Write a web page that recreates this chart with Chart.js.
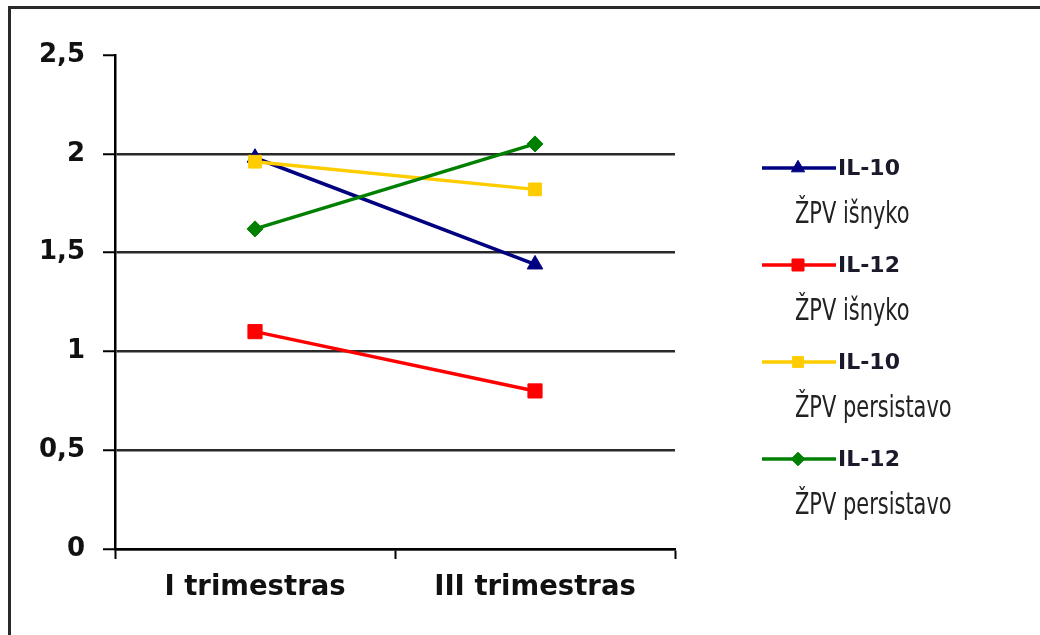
<!DOCTYPE html>
<html>
<head>
<meta charset="utf-8">
<script src="https://cdn.jsdelivr.net/npm/chart.js@4/dist/chart.umd.min.js"></script>
<style>
  html, body { margin: 0; padding: 0; background: #fff; }
  canvas { display: block; }
</style>
</head>
<body>
<canvas id="c" width="1040" height="635"></canvas>
<script>
// Categories, tick values and the four IL series
const categories = ['I trimestras', 'III trimestras'];
const yTicks = [0, 0.5, 1, 1.5, 2, 2.5];

const il10Isnyko = [1.98, 1.44];
const il12Isnyko = [1.10, 0.80];
const il10Persistavo = [1.96, 1.82];
const il12Persistavo = [1.62, 2.05];

const seriesNames = [
  ['IL-10', 'ŽPV išnyko'],
  ['IL-12', 'ŽPV išnyko'],
  ['IL-10', 'ŽPV persistavo'],
  ['IL-12', 'ŽPV persistavo']
];

const MAIN_FONT = "bold 22px 'DejaVu Sans', sans-serif";
const SUB_FONT = "24px 'Liberation Sans Narrow', 'DejaVu Sans Condensed', sans-serif";

// Outer frame (left and top edges)
const framePlugin = {
  id: 'frame',
  beforeDraw(chart) {
    const ctx = chart.ctx;
    ctx.save();
    ctx.fillStyle = '#fff';
    ctx.fillRect(0, 0, chart.width, chart.height);
    ctx.strokeStyle = '#2a2a2a';
    ctx.lineWidth = 3;
    ctx.beginPath();
    ctx.moveTo(9.5, chart.height);
    ctx.lineTo(9.5, 7.5);
    ctx.lineTo(chart.width, 7.5);
    ctx.stroke();
    ctx.restore();
  }
};

// Legend with a bold series name and a taller, narrower descriptor line
const twoLineLegend = {
  id: 'twoLineLegend',
  afterDraw(chart) {
    const ctx = chart.ctx;
    const x0 = 762, x1 = 836, markX = 798;
    const top = 168, step = 97;
    ctx.save();
    chart.data.datasets.forEach((ds, i) => {
      const y = top + i * step;
      ctx.strokeStyle = ds.borderColor;
      ctx.lineWidth = 3.5;
      ctx.beginPath();
      ctx.moveTo(x0, y);
      ctx.lineTo(x1, y);
      ctx.stroke();
      ctx.fillStyle = ds.pointBackgroundColor;
      ctx.strokeStyle = ds.pointBorderColor;
      ctx.lineWidth = 1;
      Chart.helpers.drawPoint(ctx, {
        pointStyle: ds.pointStyle,
        radius: ds.pointRadius * 0.85,
        rotation: 0,
        borderWidth: 1
      }, markX, y);
      const lines = ds.label;
      ctx.fillStyle = '#1a1a2a';
      ctx.textAlign = 'left';
      ctx.textBaseline = 'middle';
      ctx.font = MAIN_FONT;
      ctx.fillText(lines[0], x1 + 2, y + 1);
      // descriptor line, stretched vertically
      ctx.save();
      ctx.translate(795, y + 47);
      ctx.scale(0.97, 1.22);
      ctx.font = SUB_FONT;
      ctx.fillStyle = '#222';
      ctx.fillText(lines[1], 0, 0);
      ctx.restore();
    });
    ctx.restore();
  }
};

function seriesSet(name, values, color, style, radius, order) {
  return {
    label: name,
    data: values,
    borderColor: color,
    backgroundColor: color,
    pointBackgroundColor: color,
    pointBorderColor: color,
    pointStyle: style,
    pointRadius: radius,
    pointBorderWidth: 1,
    borderWidth: 3.5,
    tension: 0,
    order: order
  };
}

new Chart(document.getElementById('c'), {
  type: 'line',
  data: {
    labels: categories,
    datasets: [
      seriesSet(seriesNames[0], il10Isnyko, '#000080', 'triangle', 9, 4),
      seriesSet(seriesNames[1], il12Isnyko, '#ff0000', 'rect', 10, 3),
      seriesSet(seriesNames[2], il10Persistavo, '#ffcc00', 'rect', 9, 2),
      seriesSet(seriesNames[3], il12Persistavo, '#008000', 'rectRot', 8, 1)
    ]
  },
  plugins: [framePlugin, twoLineLegend],
  options: {
    responsive: false,
    animation: false,
    devicePixelRatio: 1,
    layout: { padding: { left: 0, top: 55, right: 365, bottom: 0 } },
    plugins: {
      legend: { display: false },
      tooltip: { enabled: false },
      title: { display: false }
    },
    scales: {
      x: {
        type: 'category',
        offset: true,
        grid: {
          offset: true,
          drawOnChartArea: false,
          drawTicks: true,
          tickLength: 10,
          tickColor: '#000',
          tickWidth: 2
        },
        border: { display: true, color: '#000', width: 2.5 },
        ticks: {
          color: '#111',
          font: { family: "'DejaVu Sans', sans-serif", size: 27.5, weight: 'bold' },
          padding: 12,
          maxRotation: 0
        },
        afterFit(scale) { scale.height = 86; }
      },
      y: {
        min: 0,
        max: 2.5,
        afterBuildTicks(scale) {
          scale.ticks = yTicks.map(v => ({ value: v }));
        },
        grid: {
          color: (c) => (c.tick && c.tick.value === 2.5) ? 'rgba(0,0,0,0)' : '#2a2a2a',
          lineWidth: 2.5,
          drawTicks: true,
          tickLength: 12,
          tickColor: '#000',
          tickWidth: 2
        },
        border: { display: true, color: '#000', width: 2.5 },
        ticks: {
          color: '#111',
          font: { family: "'DejaVu Sans', sans-serif", size: 26, weight: 'bold' },
          padding: 18,
          callback: (v) => String(v).replace('.', ',')
        },
        afterFit(scale) { scale.width = 115; }
      }
    }
  }
});
</script>
</body>
</html>
